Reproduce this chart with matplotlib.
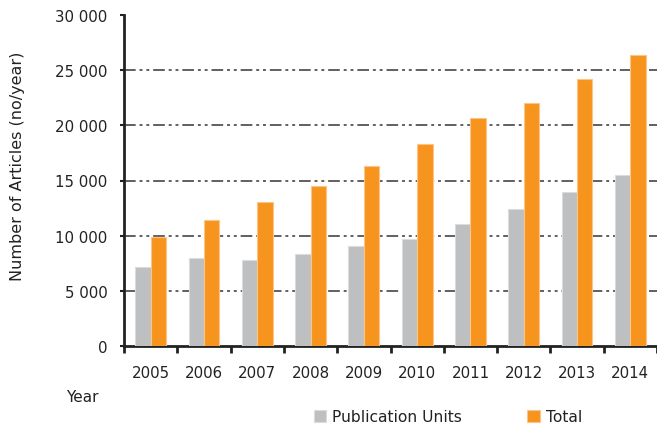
import numpy as np
import matplotlib.pyplot as plt

plt.rcParams['font.family'] = ['DejaVu Sans']

years = ['2005', '2006', '2007', '2008', '2009', '2010', '2011', '2012', '2013', '2014']
publication_units = [7170, 8020, 7750, 8320, 9050, 9710, 11100, 12380, 13980, 15490]
total = [9890, 11380, 13010, 14520, 16280, 18270, 20690, 22020, 24170, 26380]

grey = '#bebfc1'
orange = '#f7941e'

fig = plt.figure(figsize=(6.57, 4.31), dpi=100)
ax = fig.add_axes([124 / 657, 1 - 347 / 431, 1 - 124 / 657, (347 - 16) / 431])

x = np.arange(len(years))
w = 0.288
ax.bar(x - w / 2, publication_units, w, color=grey, edgecolor='#dcdcdd', linewidth=0.8,
       label='Publication Units', zorder=3)
ax.bar(x + w / 2, total, w, color=orange, edgecolor='#fbc58a', linewidth=0.8,
       label='Total', zorder=3)

ax.set_xlim(-0.5, len(years) - 0.5)
ax.set_ylim(0, 30000)
yt = np.arange(0, 30001, 5000)
ax.set_yticks(yt)
ax.set_yticklabels(['0' if v == 0 else f'{v // 1000} 000' for v in yt])
ax.set_xticks(x)
ax.set_xticklabels(years)
ax.set_xticks(np.arange(-0.5, len(years) - 0.4, 1), minor=True)

ax.tick_params(axis='x', which='major', length=0, pad=14, labelsize=10.8, labelcolor='#222222')
ax.tick_params(axis='x', which='minor', length=5, width=2, color='#222222', direction='out')
ax.tick_params(axis='y', length=3, width=1.5, color='#222222', pad=9, labelsize=10.8,
               labelcolor='#222222')

# dash-dot-dot grid lines behind the bars
for y in yt[1:-1]:
    ax.axhline(y, color='#606060', linewidth=1.4, linestyle=(0, (6, 2, 1.5, 2, 1.5, 2)), zorder=1)

for s in ['top', 'right']:
    ax.spines[s].set_visible(False)
for s in ['left', 'bottom']:
    ax.spines[s].set_linewidth(2)
    ax.spines[s].set_color('#222222')

ax.set_ylabel('Number of Articles (no/year)', fontsize=11.5, color='#222222')
ax.yaxis.set_label_coords(-0.185, 0.545)
fig.text(82 / 657, 1 - 398 / 431, 'Year', fontsize=11, color='#222222', ha='center', va='center')

fig.legend(loc='center', bbox_to_anchor=(448 / 657, 1 - 418 / 431), ncol=2, frameon=False,
           fontsize=11.2, handlelength=0.8, handleheight=0.8, handletextpad=0.4,
           columnspacing=4.2, labelcolor='#222222')

fig.savefig('out.png', dpi=100)
